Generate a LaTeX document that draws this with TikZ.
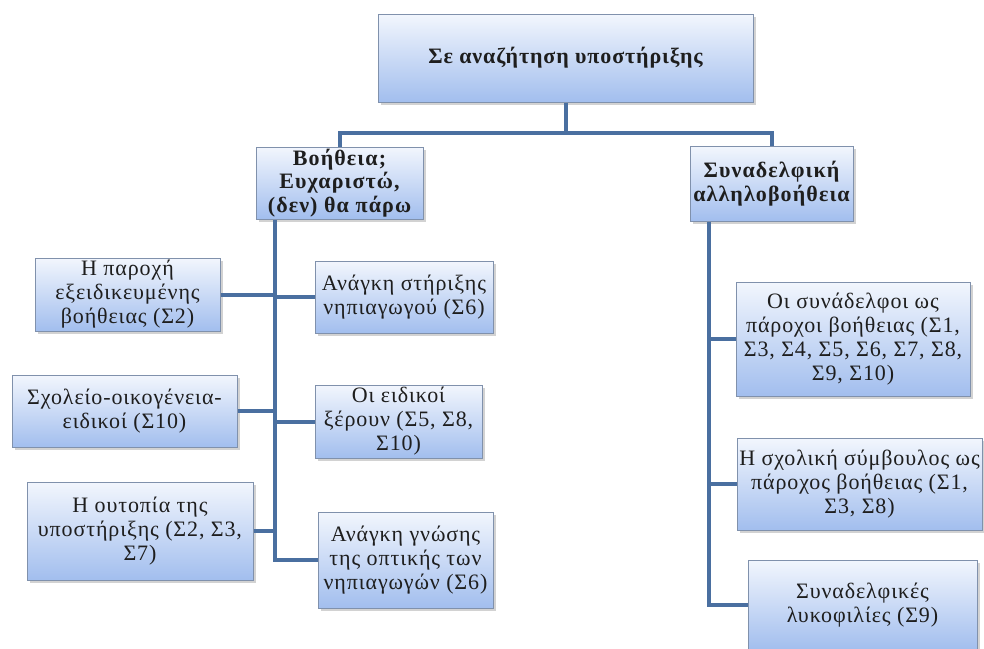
\documentclass[tikz,border=0pt]{standalone}
\usepackage{fontspec}
\setmainfont{Liberation Serif}
\newfontfamily\boxfont{Liberation Serif}[LetterSpace=4, WordSpace=1.4]
\newfontfamily\headfont{Liberation Serif}[LetterSpace=5]
\newfontfamily\rootfont{Liberation Serif}[LetterSpace=4]
\usepackage{xcolor}
\usepackage{tikz}
\usetikzlibrary{shadows}

\definecolor{boxline}{RGB}{128,145,172}
\definecolor{boxtop}{RGB}{242,246,253}
\definecolor{boxbottom}{RGB}{162,190,238}
\definecolor{linkblue}{RGB}{74,111,160}
\definecolor{inktext}{RGB}{30,30,30}

\begin{document}
\begin{tikzpicture}[
    x=1pt, y=-1pt,
    box/.style={rectangle, draw=boxline, line width=1pt,
                top color=boxtop, bottom color=boxbottom,
                drop shadow={shadow xshift=3pt, shadow yshift=-3pt, fill=black!35},
                align=center, inner sep=0pt, text=inktext,
                font=\boxfont\fontsize{22}{24}\selectfont},
    headbox/.style={box, font=\headfont\fontsize{22}{23.5}\selectfont\bfseries},
    link/.style={draw=linkblue, line width=4pt}
]
  \useasboundingbox (0,0) rectangle (984,648);

  \node[box, minimum width=375pt, minimum height=88pt,
        font=\rootfont\fontsize{22}{26}\selectfont\bfseries] (root) at (565.5,58)
    {Σε αναζήτηση υποστήριξης};

  \node[headbox, minimum width=167pt, minimum height=72pt] (help) at (339.5,183)
    {Βοήθεια;\\ Ευχαριστώ,\\ (δεν) θα πάρω};

  \node[headbox, minimum width=163pt, minimum height=75pt] (peer) at (771.5,183.5)
    {Συναδελφική\\ αλληλοβοήθεια};

  \node[box, minimum width=185pt, minimum height=73pt] (expert) at (127.5,294.5)
    {Η παροχή\\ εξειδικευμένης\\ βοήθειας (Σ2)};

  \node[box, minimum width=225pt, minimum height=72pt] (family) at (124.5,411)
    {Σχολείο-οικογένεια-\\ ειδικοί (Σ10)};

  \node[box, minimum width=226pt, minimum height=98pt] (utopia) at (140,531)
    {Η ουτοπία της\\ υποστήριξης (Σ2, Σ3,\\ Σ7)};

  \node[box, minimum width=178pt, minimum height=72pt] (need) at (404,297)
    {Ανάγκη στήριξης\\ νηπιαγωγού (Σ6)};

  \node[box, minimum width=167pt, minimum height=73pt] (know) at (398.5,421.5)
    {Οι ειδικοί\\ ξέρουν (Σ5, Σ8,\\ Σ10)};

  \node[box, minimum width=175pt, minimum height=96pt] (view) at (405.5,560)
    {Ανάγκη γνώσης\\ της οπτικής των\\ νηπιαγωγών (Σ6)};

  \node[box, minimum width=234pt, minimum height=114pt] (mates) at (853,339)
    {Οι συνάδελφοι ως\\ πάροχοι βοήθειας (Σ1,\\ Σ3, Σ4, Σ5, Σ6, Σ7, Σ8,\\ Σ9, Σ10)};

  \node[box, minimum width=245pt, minimum height=92pt] (advisor) at (859.5,484)
    {Η σχολική σύμβουλος ως\\ πάροχος βοήθειας (Σ1,\\ Σ3, Σ8)};

  \node[box, minimum width=229pt, minimum height=90pt] (rivalry) at (862.5,605)
    {Συναδελφικές\\ λυκοφιλίες (Σ9)};

  \coordinate (bus) at (root.south |- 0,133);
  \coordinate (ltrunk) at ([xshift=19pt]help.south west);
  \coordinate (rtrunk) at ([xshift=19pt]peer.south west);

  \draw[link] (root.south) -- (bus);
  \draw[link] (help.north) |- (bus) -| (peer.north);
  \draw[link] (ltrunk) |- (view.west);
  \draw[link] (expert.east) -- (expert.east -| ltrunk);
  \draw[link] (family.east) -- (family.east -| ltrunk);
  \draw[link] (utopia.east) -- (utopia.east -| ltrunk);
  \draw[link] (need.west) -- (need.west -| ltrunk);
  \draw[link] (know.west) -- (know.west -| ltrunk);
  \draw[link] (rtrunk) |- (rivalry.west);
  \draw[link] (mates.west) -- (mates.west -| rtrunk);
  \draw[link] (advisor.west) -- (advisor.west -| rtrunk);
\end{tikzpicture}
\end{document}
